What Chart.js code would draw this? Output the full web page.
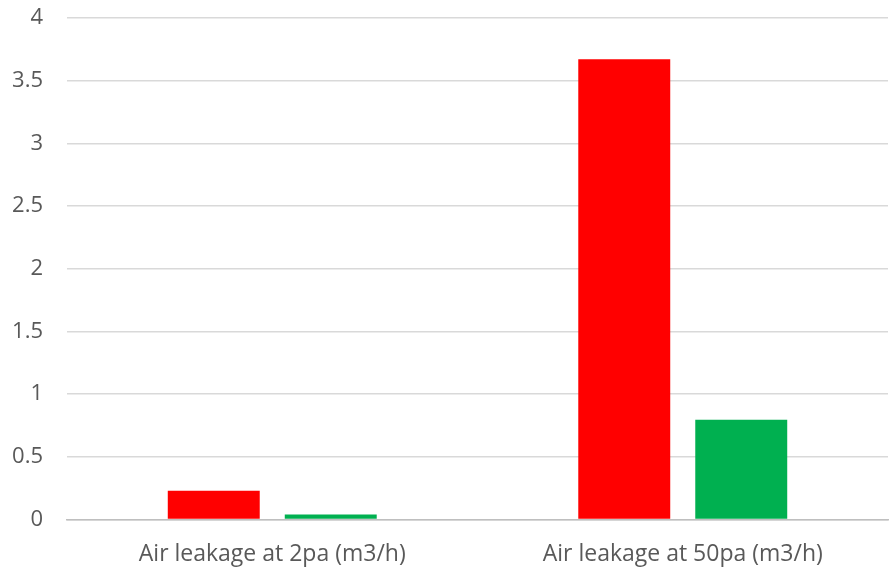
<!DOCTYPE html>
<html><head><meta charset="utf-8">
<script src="https://cdn.jsdelivr.net/npm/chart.js@4"></script>
<style>html,body{margin:0;padding:0;background:#fff}#wrap{width:896px;height:570px}</style>
</head><body><div id="wrap"><canvas id="c"></canvas></div>
<script>
const categories = ["Air leakage at 2pa (m3/h)", "Air leakage at 50pa (m3/h)"];
const seriesA = [0.23, 3.67];
const seriesB = [0.04, 0.795];
const yTicks = [0, 0.5, 1, 1.5, 2, 2.5, 3, 3.5, 4];

new Chart(document.getElementById('c'), {
  type: 'bar',
  data: {
    labels: categories,
    datasets: [
      {label: 'A', data: seriesA, backgroundColor: '#FF0000', categoryPercentage: 0.57, barPercentage: 0.786},
      {label: 'B', data: seriesB, backgroundColor: '#00B050', categoryPercentage: 0.57, barPercentage: 0.786}
    ]
  },
  options: {
    responsive: true, maintainAspectRatio: false, animation: false,
    layout: {padding: {top: 18, right: 8, left: 0, bottom: 0}},
    plugins: {legend: {display: false}, tooltip: {enabled: false}},
    scales: {
      x: {
        grid: {display: false, drawTicks: false},
        border: {display: true, color: '#BFBFBF', width: 1.5},
        ticks: {color: '#595959', font: {family: 'Open Sans', size: 23}, padding: 21, maxRotation: 0},
        afterFit: s => { s.height = 50.5; s.paddingLeft = 0; s.paddingRight = 0; }
      },
      y: {
        min: 0, max: 4,
        afterBuildTicks: s => { s.ticks = yTicks.map(v => ({value: v})); },
        grid: {color: '#D9D9D9', lineWidth: 1.5, drawTicks: false},
        border: {display: false},
        ticks: {color: '#595959', font: {family: 'Open Sans', size: 22}, padding: 24,
          callback: v => String(v)},
        afterFit: s => { s.width = 67; s.paddingTop = 0; s.paddingBottom = 0; }
      }
    }
  }
});
</script></body></html>
